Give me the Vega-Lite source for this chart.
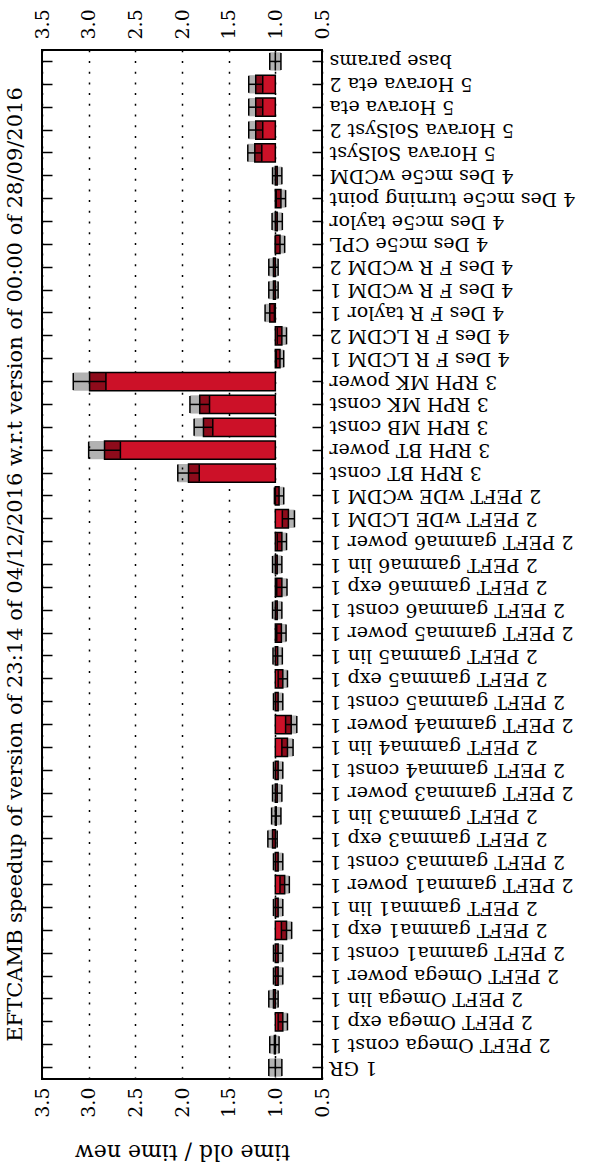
{
  "$schema": "https://vega.github.io/schema/vega-lite/v6.json",
  "autosize": {"type": "none"},
  "padding": {"left": 42, "top": 50, "right": 270, "bottom": 85},
  "width": 280,
  "height": 1029,
  "background": "white",
  "title": {"text": "EFTCAMB speedup of version of 23:14 of 04/12/2016 w.r.t version of 00:00 of 28/09/2016", "orient": "left", "anchor": "middle", "font": "DejaVu Serif", "fontSize": 21, "fontWeight": "normal", "color": "black", "offset": 7},
  "config": {
    "view": {"stroke": "black", "strokeWidth": 2},
    "axis": {"labelFont": "DejaVu Serif", "titleFont": "DejaVu Serif", "labelColor": "black", "titleColor": "black", "titleFontWeight": "normal", "domain": false}
  },
  "data": {"values": [
    {"name": "base params", "v": 1.00, "lo": 0.94, "hi": 1.06},
    {"name": "5 Horava eta 2", "v": 1.21, "lo": 1.135, "hi": 1.285},
    {"name": "5 Horava eta", "v": 1.21, "lo": 1.135, "hi": 1.285},
    {"name": "5 Horava SolSyst 2", "v": 1.21, "lo": 1.135, "hi": 1.285},
    {"name": "5 Horava SolSyst", "v": 1.22, "lo": 1.145, "hi": 1.295},
    {"name": "4 Des mc5e wCDM", "v": 0.98, "lo": 0.93, "hi": 1.03},
    {"name": "4 Des mc5e turning point", "v": 0.94, "lo": 0.89, "hi": 0.99},
    {"name": "4 Des mc5e taylor", "v": 0.98, "lo": 0.925, "hi": 1.035},
    {"name": "4 Des mc5e CPL", "v": 0.95, "lo": 0.9, "hi": 1.0},
    {"name": "4 Des F R wCDM 2", "v": 1.02, "lo": 0.97, "hi": 1.07},
    {"name": "4 Des F R wCDM 1", "v": 1.02, "lo": 0.97, "hi": 1.07},
    {"name": "4 Des F R taylor 1", "v": 1.06, "lo": 1.01, "hi": 1.11},
    {"name": "4 Des F R LCDM 2", "v": 0.93, "lo": 0.88, "hi": 0.98},
    {"name": "4 Des F R LCDM 1", "v": 0.95, "lo": 0.91, "hi": 0.99},
    {"name": "3 RPH MK power", "v": 2.99, "lo": 2.815, "hi": 3.165},
    {"name": "3 RPH MK const", "v": 1.81, "lo": 1.705, "hi": 1.915},
    {"name": "3 RPH MB const", "v": 1.77, "lo": 1.67, "hi": 1.87},
    {"name": "3 RPH BT power", "v": 2.83, "lo": 2.66, "hi": 3.0},
    {"name": "3 RPH BT const", "v": 1.93, "lo": 1.815, "hi": 2.045},
    {"name": "2 PEFT wDE wCDM 1", "v": 0.96, "lo": 0.91, "hi": 1.01},
    {"name": "2 PEFT wDE LCDM 1", "v": 0.86, "lo": 0.795, "hi": 0.925},
    {"name": "2 PEFT gamma6 power 1", "v": 0.93, "lo": 0.88, "hi": 0.98},
    {"name": "2 PEFT gamma6 lin 1", "v": 0.98, "lo": 0.93, "hi": 1.03},
    {"name": "2 PEFT gamma6 exp 1", "v": 0.93, "lo": 0.875, "hi": 0.985},
    {"name": "2 PEFT gamma6 const 1", "v": 0.98, "lo": 0.93, "hi": 1.03},
    {"name": "2 PEFT gamma5 power 1", "v": 0.935, "lo": 0.885, "hi": 0.985},
    {"name": "2 PEFT gamma5 lin 1", "v": 0.975, "lo": 0.925, "hi": 1.025},
    {"name": "2 PEFT gamma5 exp 1", "v": 0.92, "lo": 0.87, "hi": 0.97},
    {"name": "2 PEFT gamma5 const 1", "v": 0.97, "lo": 0.92, "hi": 1.02},
    {"name": "2 PEFT gamma4 power 1", "v": 0.83, "lo": 0.77, "hi": 0.89},
    {"name": "2 PEFT gamma4 lin 1", "v": 0.87, "lo": 0.81, "hi": 0.93},
    {"name": "2 PEFT gamma4 const 1", "v": 0.97, "lo": 0.92, "hi": 1.02},
    {"name": "2 PEFT gamma3 power 1", "v": 0.98, "lo": 0.93, "hi": 1.03},
    {"name": "2 PEFT gamma3 lin 1", "v": 0.99, "lo": 0.94, "hi": 1.04},
    {"name": "2 PEFT gamma3 exp 1", "v": 1.03, "lo": 0.98, "hi": 1.08},
    {"name": "2 PEFT gamma3 const 1", "v": 0.97, "lo": 0.92, "hi": 1.02},
    {"name": "2 PEFT gamma1 power 1", "v": 0.90, "lo": 0.85, "hi": 0.95},
    {"name": "2 PEFT gamma1 lin 1", "v": 0.97, "lo": 0.92, "hi": 1.02},
    {"name": "2 PEFT gamma1 exp 1", "v": 0.88, "lo": 0.825, "hi": 0.935},
    {"name": "2 PEFT gamma1 const 1", "v": 0.97, "lo": 0.92, "hi": 1.02},
    {"name": "2 PEFT Omega power 1", "v": 0.97, "lo": 0.92, "hi": 1.02},
    {"name": "2 PEFT Omega lin 1", "v": 1.02, "lo": 0.97, "hi": 1.07},
    {"name": "2 PEFT Omega exp 1", "v": 0.92, "lo": 0.87, "hi": 0.97},
    {"name": "2 PEFT Omega const 1", "v": 1.01, "lo": 0.96, "hi": 1.06},
    {"name": "1 GR", "v": 1.00, "lo": 0.93, "hi": 1.07}
  ]},
  "resolve": {"axis": {"x": "independent", "y": "independent"}},
  "layer": [
    {
      "mark": {"type": "bar", "fill": "#cc1128", "stroke": "black", "strokeWidth": 1.5},
      "encoding": {
        "x": {"field": "v", "type": "quantitative", "scale": {"domain": [0.5, 3.5], "reverse": true, "nice": false, "zero": false},
              "axis": {"orient": "bottom", "values": [0.5, 1.0, 1.5, 2.0, 2.5, 3.0, 3.5], "format": ".1f", "labelAngle": 270, "labelFontSize": 19, "labelPadding": 8, "ticks": false, "grid": true, "gridColor": "black", "gridDash": [2, 8.7], "gridWidth": 1.5, "gridOpacity": 1, "title": "time old / time new", "titleAngle": 180, "titleBaseline": "bottom", "titleFontSize": 22, "titlePadding": 22}},
        "x2": {"datum": 1},
        "y": {"field": "name", "type": "nominal", "sort": null, "scale": {"paddingInner": 0.2, "paddingOuter": 0.1},
              "axis": {"orient": "right", "title": null, "labelAngle": 180, "labelAlign": "right", "labelBaseline": "middle", "labelFontSize": 19, "labelLimit": 0, "labelPadding": 17, "tickSize": -10, "tickColor": "black", "tickWidth": 1.5, "grid": false}}
      }
    },
    {
      "mark": {"type": "bar", "fill": "black", "opacity": 0.3},
      "encoding": {
        "x": {"field": "lo", "type": "quantitative",
              "axis": {"orient": "top", "values": [0.5, 1.0, 1.5, 2.0, 2.5, 3.0, 3.5], "format": ".1f", "labelAngle": 270, "labelFontSize": 19, "labelPadding": 11, "ticks": false, "grid": false, "title": null}},
        "x2": {"field": "hi"},
        "y": {"field": "name", "type": "nominal", "sort": null,
              "axis": {"orient": "left", "title": null, "labels": false, "tickSize": -10, "tickColor": "black", "tickWidth": 1.5, "grid": false}}
      }
    },
    {
      "mark": {"type": "rule", "color": "black", "strokeWidth": 1.5},
      "encoding": {
        "x": {"field": "lo", "type": "quantitative", "axis": null},
        "x2": {"field": "hi"},
        "y": {"field": "name", "type": "nominal", "sort": null, "axis": null}
      }
    },
    {
      "mark": {"type": "tick", "color": "black", "size": 17, "thickness": 1.5, "opacity": 1},
      "encoding": {
        "x": {"field": "lo", "type": "quantitative", "axis": null},
        "y": {"field": "name", "type": "nominal", "sort": null, "axis": null}
      }
    },
    {
      "mark": {"type": "tick", "color": "black", "size": 17, "thickness": 1.5, "opacity": 1},
      "encoding": {
        "x": {"field": "hi", "type": "quantitative", "axis": null},
        "y": {"field": "name", "type": "nominal", "sort": null, "axis": null}
      }
    }
  ]
}
